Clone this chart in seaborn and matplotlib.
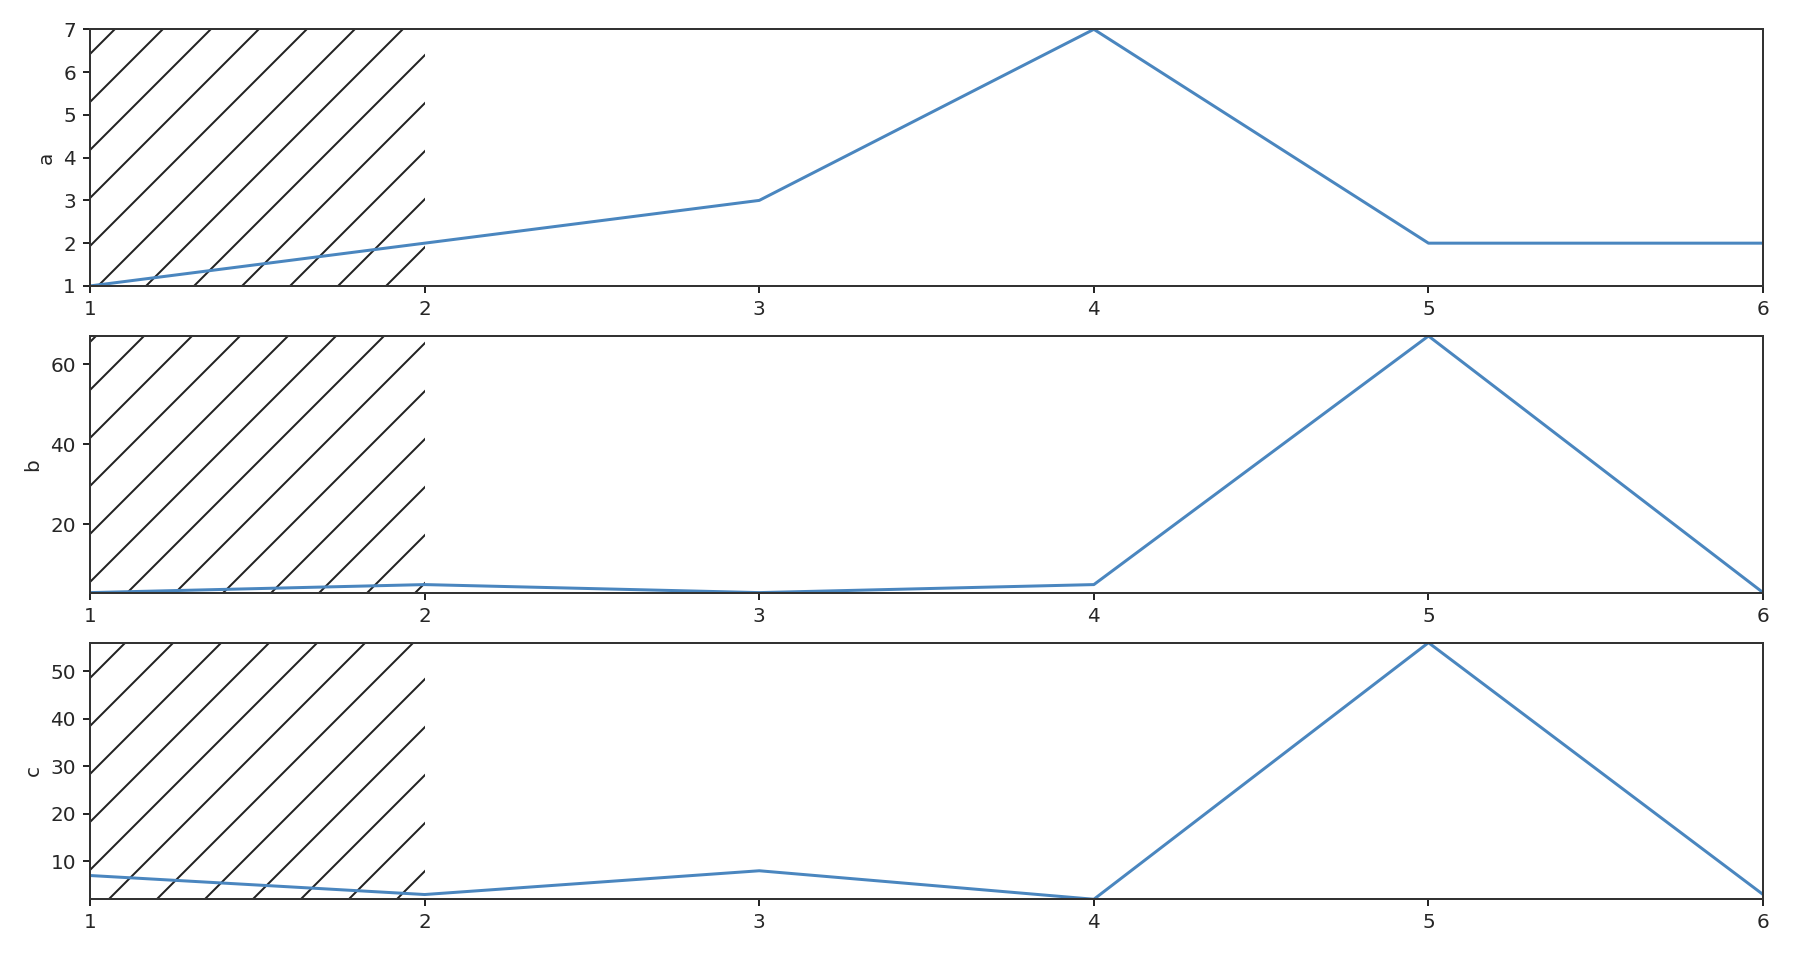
import matplotlib
matplotlib.use("Agg")
import matplotlib.pyplot as plt
import seaborn as sns
import pandas as pd

# Data
x_vals = [1, 2, 3, 4, 5, 6]
a_vals = [1, 2, 3, 7, 2, 2]
b_vals = [3, 5, 3, 5, 67, 3]
c_vals = [7, 3, 8, 2, 56, 3]
series_names = ["a", "b", "c"]
shade_start, shade_end = 1, 2

sns.set_style("ticks")
plt.rcParams["font.family"] = ["DejaVu Sans"]
plt.rcParams["hatch.linewidth"] = 1.0
plt.rcParams["hatch.color"] = "#222222"

df = pd.DataFrame({"x": x_vals, "a": a_vals, "b": b_vals, "c": c_vals})

fig, axes = plt.subplots(3, 1, figsize=(1812 / 144, 958 / 144), dpi=144)
fig.subplots_adjust(left=0.0497, right=0.973, top=0.9694, bottom=0.0613, hspace=0.195)

for ax, name in zip(axes, series_names):
    ymin, ymax = df[name].min(), df[name].max()
    ax.fill_between([shade_start, shade_end], ymin, ymax, facecolor="none",
                    edgecolor="#222222", hatch="/", linewidth=0)
    sns.lineplot(data=df, x="x", y=name, ax=ax, color="#4a86bf", linewidth=1.5)
    ax.set_xlim(x_vals[0], x_vals[-1])
    ax.set_ylim(ymin, ymax)
    ax.set_xticks(x_vals)
    ax.set_xlabel("")
    ax.set_ylabel(name, fontsize=10, color=".15")
    ax.tick_params(axis="both", labelsize=10, length=3.5, width=1, colors=".15")
    for s in ax.spines.values():
        s.set_color(".2")
        s.set_linewidth(1.0)

fig.savefig("out.png", dpi=144)
